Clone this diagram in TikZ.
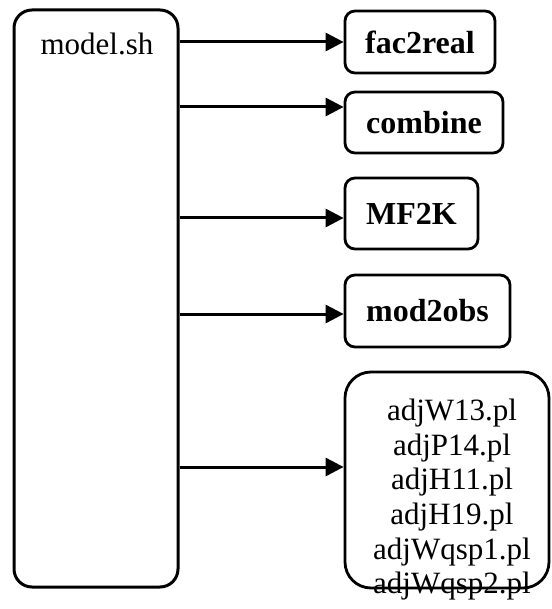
\documentclass[tikz,border=0pt]{standalone}
\usepackage{fontspec}
\setmainfont{Liberation Serif}
\usetikzlibrary{arrows.meta}

\begin{document}
\begin{tikzpicture}[
    x=1pt, y=-1pt,
    every node/.style={align=center, font=\fontsize{31}{34.6}\selectfont},
    mainbox/.style={rectangle, rounded corners=18pt, draw, line width=3pt, minimum width=164pt, minimum height=577pt, inner sep=0pt},
    script/.style={rectangle, rounded corners=10pt, draw, line width=2.8pt, inner sep=0pt, font=\fontsize{32}{34.6}\selectfont\bfseries},
    listbox/.style={rectangle, rounded corners=26pt, draw, line width=2.8pt, minimum width=204pt, minimum height=216pt, inner sep=0pt},
    arrow/.style={-{Triangle[length=18pt, width=18pt]}, line width=3pt}
]
\useasboundingbox (0,0) rectangle (551,609);

% Nodes
\node[mainbox] (model) at (96,298.5) {};
\node[anchor=base] (modellbl) at (97,55) {model.sh};
\node[script, minimum width=150pt, minimum height=62pt] (fac) at (420,42) {fac2real};
\node[script, minimum width=158pt, minimum height=61pt] (comb) at (424,122.5) {combine};
\node[script, minimum width=133pt, minimum height=71pt] (mf) at (411.5,213.5) {MF2K};
\node[script, minimum width=165pt, minimum height=72pt] (obs) at (427.5,311) {mod2obs};
\node[listbox] (adj) at (447,480) {};
\node[anchor=north, inner sep=0pt] (adjlist) at (452,399) {adjW13.pl\\adjP14.pl\\adjH11.pl\\adjH19.pl\\adjWqsp1.pl\\adjWqsp2.pl};

% Connections
\draw[arrow] (model.east |- fac.west) -- (fac.west);
\draw[arrow, transform canvas={yshift=15.5pt}] (model.east |- comb.west) -- (comb.west);
\draw[arrow, transform canvas={yshift=-4.5pt}] (model.east |- mf.west) -- (mf.west);
\draw[arrow, transform canvas={yshift=-3pt}] (model.east |- obs.west) -- (obs.west);
\draw[arrow, transform canvas={yshift=13pt}] (model.east |- adj.west) -- (adj.west);

\end{tikzpicture}
\end{document}
